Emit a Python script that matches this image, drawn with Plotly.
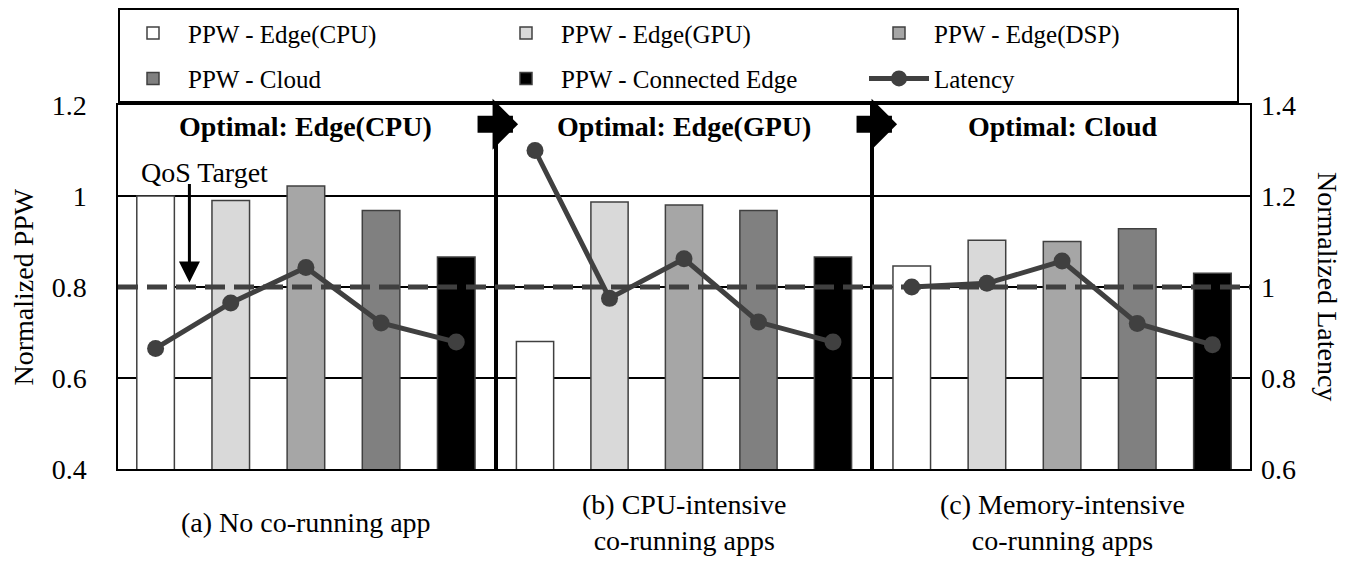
import plotly.graph_objects as go
from plotly.subplots import make_subplots

configs = ["Edge(CPU)", "Edge(GPU)", "Edge(DSP)", "Cloud", "Connected Edge"]
bar_colors = ["#ffffff", "#d9d9d9", "#a6a6a6", "#808080", "#000000"]

panel_labels = ["(a) No co-running app",
                "(b) CPU-intensive<br>co-running apps",
                "(c) Memory-intensive<br>co-running apps"]
optimal = ["Optimal: Edge(CPU)", "Optimal: Edge(GPU)", "Optimal: Cloud"]

ppw_a = [1.0, 0.99, 1.022, 0.968, 0.866]
ppw_b = [0.68, 0.987, 0.98, 0.968, 0.866]
ppw_c = [0.846, 0.903, 0.90, 0.928, 0.83]
lat_a = [0.865, 0.965, 1.043, 0.921, 0.879]
lat_b = [1.30, 0.975, 1.062, 0.923, 0.879]
lat_c = [1.0, 1.008, 1.057, 0.92, 0.873]

ppw = [ppw_a, ppw_b, ppw_c]
lat = [lat_a, lat_b, lat_c]

QOS_TARGET = 0.8
ppw_ticks = [0.4, 0.6, 0.8, 1.0, 1.2]
lat_ticks = [0.6, 0.8, 1.0, 1.2, 1.4]

FONT = "Liberation Serif, Times New Roman, serif"
DARK = "#404040"
FS = 28

fig = make_subplots(rows=1, cols=3, horizontal_spacing=0.004,
                    specs=[[{"secondary_y": True}] * 3])

for p in range(3):
    for i, name in enumerate(configs):
        fig.add_trace(go.Bar(
            x=[name], y=[ppw[p][i]], width=0.5,
            name="PPW - " + name, legendgroup=name, showlegend=(p == 0),
            marker=dict(color=bar_colors[i], line=dict(color=DARK, width=1.5)),
        ), row=1, col=p + 1, secondary_y=False)
    fig.add_trace(go.Scatter(
        x=configs, y=lat[p], mode="lines+markers",
        name="Latency", legendgroup="lat", showlegend=(p == 0),
        line=dict(color=DARK, width=5), marker=dict(color=DARK, size=17),
    ), row=1, col=p + 1, secondary_y=True)

fig.update_xaxes(showticklabels=False, showline=True, mirror=True,
                 linecolor="black", linewidth=1.5, showgrid=False,
                 categoryorder="array", categoryarray=configs)
fig.update_yaxes(range=[0.4, 1.2], tickvals=ppw_ticks, showgrid=True,
                 gridcolor="black", gridwidth=1.5, showline=True, mirror=True,
                 linecolor="black", linewidth=1.5, zeroline=False,
                 showticklabels=False, secondary_y=False)
fig.update_yaxes(range=[0.6, 1.4], tickvals=lat_ticks, showgrid=False,
                 showline=False, zeroline=False, showticklabels=False,
                 secondary_y=True)
fig.update_yaxes(showticklabels=True, ticklabelstandoff=24,
                 row=1, col=1, secondary_y=False)
fig.update_yaxes(showticklabels=True, ticklabelstandoff=10,
                 row=1, col=3, secondary_y=True)

# full-width panels (make_subplots shrinks them for the secondary axes)
fig.update_layout(xaxis=dict(domain=[0, 0.332]),
                  xaxis2=dict(domain=[0.3355, 0.6645]),
                  xaxis3=dict(domain=[0.668, 1.0]))

# QoS target dashed line across all panels
fig.add_shape(type="line", xref="paper", x0=0, x1=1, yref="y",
              y0=QOS_TARGET, y1=QOS_TARGET, layer="above",
              line=dict(color=DARK, width=5, dash="20px,9px"))

afont = dict(family=FONT, size=FS, color="black")
annos = []
for p in range(3):
    xr = "x domain" if p == 0 else "x%d domain" % (p + 1)
    annos.append(dict(xref=xr, yref="paper", x=0.5, y=0.94, xanchor="center",
                      yanchor="middle", text="<b>%s</b>" % optimal[p],
                      showarrow=False, font=afont))
    annos.append(dict(xref=xr, yref="paper", x=0.5, y=-0.148, xanchor="center",
                      yanchor="middle", text=panel_labels[p], showarrow=False, font=afont))

# transition arrows between panels
for tip in [0.3534, 0.6882]:
    annos.append(dict(xref="paper", yref="paper", x=tip, y=0.947, ax=-42, ay=0,
                      text="", showarrow=True, arrowhead=1, arrowsize=0.5,
                      arrowwidth=17, arrowcolor="black"))

annos.append(dict(xref="x domain", yref="paper", x=0.23, y=0.815, xanchor="center",
                  yanchor="middle", text="QoS Target", showarrow=False, font=afont))
annos.append(dict(xref="x domain", yref="y", x=0.19, y=0.81, ax=0, ay=-100,
                  text="", showarrow=True, arrowhead=2, arrowsize=1.4,
                  arrowwidth=3, arrowcolor="black"))

annos.append(dict(xref="paper", yref="paper", x=-0.0835, y=0.5, xanchor="center",
                  yanchor="middle", text="Normalized PPW",
                  textangle=-90, showarrow=False, font=afont))
annos.append(dict(xref="paper", yref="paper", x=1.0689, y=0.5, xanchor="center",
                  yanchor="middle", text="Normalized Latency",
                  textangle=90, showarrow=False, font=afont))

fig.update_layout(
    width=1345, height=557,
    margin=dict(l=110, r=103, t=97, b=96, autoexpand=False),
    font=dict(family=FONT, size=FS, color="black"),
    plot_bgcolor="white", paper_bgcolor="white",
    barmode="overlay",
    annotations=annos,
    legend=dict(orientation="h", x=0, xanchor="left", y=1.266, yanchor="top",
                bordercolor="black", borderwidth=2, bgcolor="white",
                itemwidth=60, entrywidth=298,
                font=dict(family=FONT, size=25, color="black")),
)

fig.write_html("out.html")
